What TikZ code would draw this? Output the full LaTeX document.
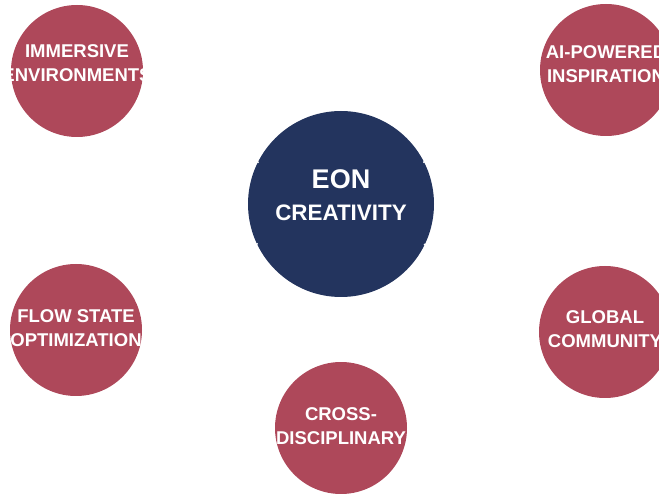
\documentclass[tikz,border=0pt]{standalone}
\usepackage{fontspec}
\setmainfont{Liberation Sans}
\usetikzlibrary{positioning}
\definecolor{eonnavy}{RGB}{35,52,94}
\definecolor{eonrose}{RGB}{174,72,90}

\begin{document}
\begin{tikzpicture}[x = 1pt, y = -1pt,
  hub/.style = {circle, fill = eonnavy, minimum size = 186pt, inner sep = 0pt},
  spoke/.style = {circle, fill = eonrose, minimum size = 132pt, inner sep = 0pt},
  hubtext/.style = {text = white, align = center, inner sep = 0pt, font = \fontsize{22.4}{32}\bfseries\selectfont},
  tag/.style = {text = white, align = center, inner sep = 0pt, font = \fontsize{18.5}{24}\bfseries\selectfont},
  link/.style = {draw = white, line width = 1.4pt}]
\clip (0,0) rectangle (659,494);
\node[hub, label = {[hubtext, yshift = 9pt]center:{{\fontsize{27}{32}\selectfont EON}\\CREATIVITY}}] (eon) at (341,204) {};
\node[spoke, label = {[tag, yshift = 8pt]center:{IMMERSIVE\\ENVIRONMENTS}}] (immersive) at (77,71) {};
\node[spoke, label = {[tag, yshift = 6pt]center:{AI-POWERED\\INSPIRATION}}] (aipowered) at (606,70) {};
\node[spoke, label = {[tag, yshift = 2pt]center:{FLOW STATE\\OPTIMIZATION}}] (flow) at (76,330) {};
\node[spoke, label = {[tag, yshift = 3pt]center:{GLOBAL\\COMMUNITY}}] (global) at (605,332) {};
\node[spoke, label = {[tag, yshift = 2pt]center:{CROSS-\\DISCIPLINARY}}] (cross) at (341,428) {};
\draw[link, shorten <= -1pt] (eon) -- (immersive);
\draw[link, shorten <= -1pt] (eon) -- (aipowered);
\draw[link, shorten <= -1pt] (eon) -- (flow);
\draw[link, shorten <= -1pt] (eon) -- (global);
\draw[link] (eon) -- (cross);
\end{tikzpicture}
\end{document}
